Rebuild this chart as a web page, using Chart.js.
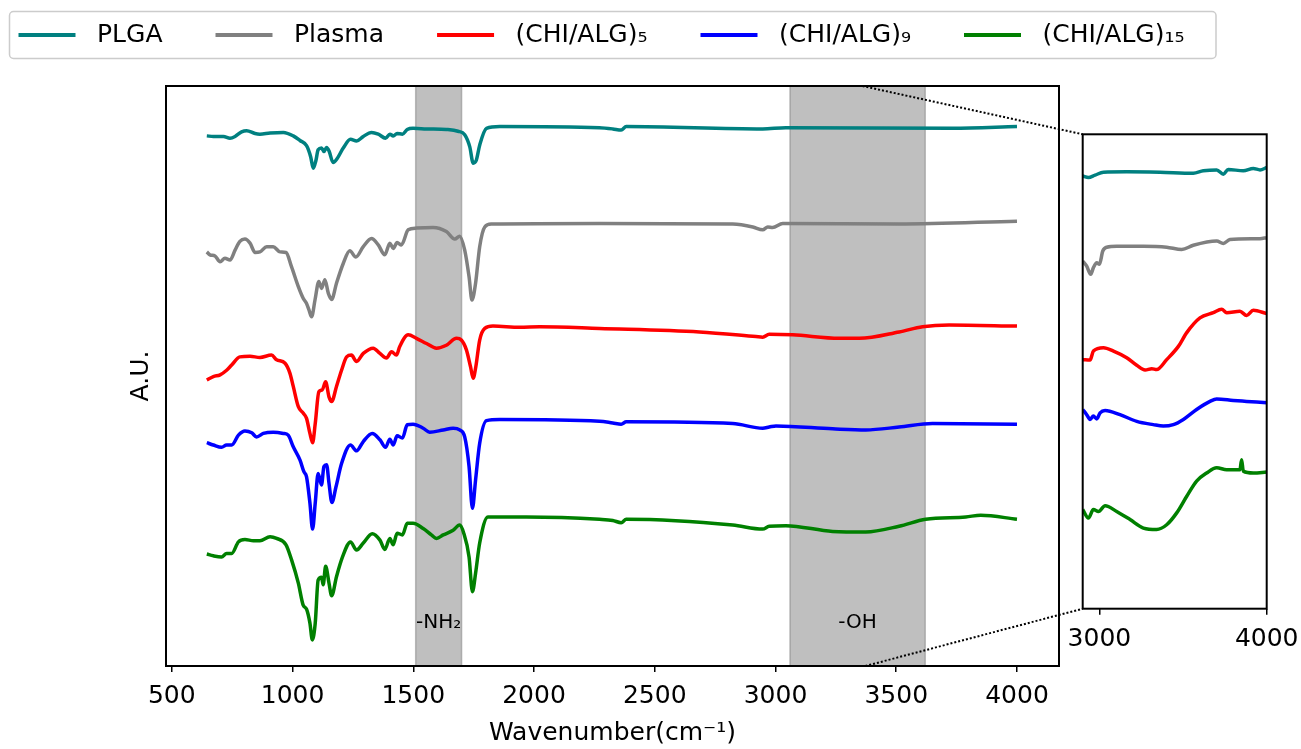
<!DOCTYPE html>
<html>
<head>
<meta charset="utf-8">
<script src="https://cdn.jsdelivr.net/npm/chart.js@4/dist/chart.umd.min.js"></script>
<style>
html,body{margin:0;padding:0;background:#fff;overflow:hidden;width:1301px;height:749px}
canvas{position:absolute}
</style>
</head>
<body>
<canvas id="main" width="1301" height="749"></canvas>
<canvas id="inset" width="241" height="560"></canvas>
<script>
// ---------------- DATA ----------------
const seriesNames  = ['PLGA', 'Plasma', '(CHI/ALG)₅', '(CHI/ALG)₉', '(CHI/ALG)₁₅'];
const seriesColors = ['#008080', '#808080', '#ff0000', '#0000ff', '#008000'];

// main panel (wavenumber, arbitrary units incl. stacking offset)
const plgaWn = [645,672,714,741,762,789,810,845,865,907,962,1003,1031,1058,1075,1086,1097,1106,1120,1130,1141,1152,1168,1185,1210,1240,1265,1293,1327,1355,1385,1403,1417,1433,1455,1475,1499,1555,1637,1685,1713,1734,1748,1761,1775,1803,1858,2271,2326,2361,2382,2947,3043,3733,4000];
const plgaAU = [91.4,91.3,91.3,91.0,91.3,92.1,92.3,91.8,91.7,91.9,92.0,91.4,90.6,89.7,87.8,85.8,87.2,89.0,89.3,88.7,89.4,88.7,86.8,87.5,89.3,90.8,90.5,91.3,92.0,91.7,91.0,91.7,91.4,91.8,91.7,92.5,92.7,92.6,92.5,92.2,91.6,89.5,86.7,87.2,89.8,92.7,93.0,92.8,92.6,92.4,93.0,92.6,92.8,92.7,93.0];

const plasmaWn = [645,658,679,700,720,741,762,782,803,824,845,865,893,920,948,973,996,1024,1044,1058,1068,1079,1093,1109,1120,1134,1148,1162,1182,1210,1237,1262,1293,1327,1355,1382,1403,1417,1433,1451,1479,1513,1582,1637,1672,1692,1713,1731,1743,1758,1775,1796,1823,2271,2823,2906,2947,2968,2988,3030,3512,4000];
const plasmaAU = [71.4,70.9,70.7,69.7,70.3,70.0,71.7,73.2,73.6,72.9,71.3,71.4,72.3,72.3,71.4,71.3,68.8,65.4,63.4,62.5,61.4,60.2,63.1,66.3,65.1,66.6,64.3,63.2,66.0,69.4,71.6,70.5,72.3,73.7,72.6,70.9,72.9,72.0,73.0,72.6,75.2,75.5,75.6,74.9,73.6,74.1,71.7,67.1,63.1,66.0,72.3,75.7,76.2,76.3,76.2,75.7,75.2,75.7,75.6,76.3,76.2,76.7];

const chi5Wn = [645,672,700,727,748,782,824,865,913,934,969,989,1003,1024,1044,1058,1072,1083,1094,1109,1123,1137,1151,1162,1182,1203,1224,1244,1265,1293,1334,1362,1389,1410,1430,1444,1479,1513,1555,1596,1637,1679,1699,1720,1737,1748,1759,1775,1796,1830,1941,2023,2271,2685,2919,2947,2974,3071,3264,3347,3512,3609,3719,4000];
const chi5AU = [49.3,49.9,50.2,51.0,51.9,53.3,53.4,53.2,53.6,52.8,52.2,50.5,48.2,44.7,43.6,42.7,40.1,38.5,41.8,47.3,47.6,49.0,46.4,45.6,48.2,51.0,53.3,53.6,52.5,53.9,54.8,53.9,53.1,54.2,53.6,55.1,57.1,56.5,55.6,54.8,55.3,56.5,56.2,54.5,51.6,49.6,51.6,56.2,58.2,58.6,58.4,58.5,58.2,57.6,56.8,56.7,57.2,57.1,56.5,56.5,57.6,58.5,58.8,58.6];

const chi9Wn = [645,672,706,727,748,776,803,831,851,879,920,962,982,1003,1031,1047,1058,1072,1083,1094,1106,1120,1130,1141,1151,1163,1180,1203,1240,1265,1293,1330,1362,1385,1403,1417,1433,1455,1475,1499,1541,1568,1624,1665,1692,1713,1731,1745,1758,1775,1803,1858,2271,2326,2361,2382,2823,2947,2974,3002,3236,3374,3512,3650,4000];
const chi9AU = [38.5,38.1,37.7,38.1,38.1,39.8,40.5,40.2,39.5,40.1,40.3,40.1,39.8,37.8,35.5,33.5,32.6,28.1,23.6,28.1,33.2,31.2,34.4,34.7,31.5,28.2,30.9,34.9,38.1,37.1,38.7,40.1,39.0,37.7,39.1,38.1,39.7,39.3,41.6,41.7,41.0,40.3,40.7,41.0,40.7,39.5,34.4,27.2,32.1,38.4,42.3,42.5,42.2,41.9,41.7,42.1,41.8,41.0,41.2,41.4,40.9,40.7,41.2,41.8,41.7];

const chi15Wn = [645,672,706,727,748,776,803,838,865,907,934,973,996,1024,1044,1058,1072,1082,1094,1106,1120,1127,1137,1151,1162,1182,1207,1240,1265,1293,1330,1362,1382,1403,1417,1433,1455,1475,1499,1541,1575,1596,1624,1665,1692,1709,1731,1745,1758,1775,1809,1858,1968,2271,2326,2361,2382,2823,2947,2974,3043,3236,3374,3512,3622,3788,3850,4000];
const chi15AU = [19.3,19.0,18.8,19.4,19.4,21.4,21.8,21.6,21.6,22.3,22.0,20.9,18.3,14.3,10.5,9.8,7.4,4.5,7.4,14.8,15.3,14.0,17.2,14.3,12.1,15.4,18.8,21.4,20.0,21.2,22.8,21.7,20.1,22.0,20.9,22.9,22.6,24.6,24.6,23.7,22.6,22.0,22.6,23.4,24.3,22.9,18.8,12.8,16.0,21.2,25.7,25.7,25.7,25.3,25.1,24.7,25.3,24.3,23.6,24.1,24.2,23.2,23.1,24.1,25.3,25.7,26.0,25.3];

// zoomed inset 2900-4000 cm-1 (each trace rescaled)
const plgaInsetWn = [2900,2934,2974,3024,3163,3362,3561,3621,3701,3741,3770,3860,3920,3960,4000];
const plgaInsetAU = [91.2,90.9,91.4,92.0,92.1,92.0,91.8,92.3,92.5,91.6,92.6,92.3,92.8,92.5,93.0];
const plasmaInsetWn = [2900,2924,2948,2964,2984,3000,3020,3044,3103,3263,3402,3492,3561,3701,3741,3780,3960,4000];
const plasmaInsetAU = [73.3,72.2,70.5,71.9,72.9,72.6,75.4,76.2,76.4,76.4,76.2,75.7,76.6,77.5,77.0,77.8,78.0,78.2];
const chi5InsetWn = [2900,2944,2964,3024,3084,3163,3223,3273,3313,3342,3402,3472,3522,3601,3681,3731,3761,3840,3880,3920,4000];
const chi5InsetAU = [52.5,52.4,54.3,55.0,54.3,52.9,51.3,50.3,50.6,50.4,52.5,55.3,58.2,61.3,62.4,63.1,62.4,62.7,61.8,62.9,62.2];
const chi9InsetWn = [2900,2924,2944,2964,2984,3004,3034,3123,3223,3322,3382,3442,3502,3581,3661,3701,3800,3880,4000];
const chi9InsetAU = [42.0,40.9,39.9,40.6,40.0,41.3,41.8,40.9,39.5,38.8,38.5,38.8,39.9,42.0,43.7,44.2,43.9,43.7,43.4];
const chi15InsetWn = [2900,2934,2964,2994,3034,3103,3183,3263,3342,3402,3462,3522,3581,3641,3701,3761,3840,3850,3860,3920,4000];
const chi15InsetAU = [20.9,19.1,20.9,20.5,21.7,20.5,18.8,17.0,16.7,17.7,20.2,23.7,26.9,28.6,29.7,29.3,29.3,31.4,29.0,28.6,28.8];

// ticks, ranges, shaded bands
const xTicks = [500,1000,1500,2000,2500,3000,3500,4000];
const xRange = [476, 4174];
const insetTicks = [3000,4000];
const insetRange = [2900, 4000];
const bandRanges = [[1510,1700],[3060,3620]];
const bandLabels = ['-NH₂','-OH'];
const bandLabelLevel = 7.5;
const zoomAnchors = [3360, 3372];

// ---------------- CHARTS ----------------
Chart.defaults.font.family = "'DejaVu Sans', sans-serif";
Chart.defaults.font.size = 25;
Chart.defaults.color = '#000';

const mainSeries = [[plgaWn,plgaAU],[plasmaWn,plasmaAU],[chi5Wn,chi5AU],[chi9Wn,chi9AU],[chi15Wn,chi15AU]];
const insetSeries = [[plgaInsetWn,plgaInsetAU],[plasmaInsetWn,plasmaInsetAU],[chi5InsetWn,chi5InsetAU],[chi9InsetWn,chi9InsetAU],[chi15InsetWn,chi15InsetAU]];

function makeDatasets(list){
  return list.map(([wn,au],i)=>({
    label: seriesNames[i],
    data: wn.map((w,k)=>({x:w, y:au[k]})),
    borderColor: seriesColors[i],
    backgroundColor: seriesColors[i],
    borderWidth: 3.5,
    pointRadius: 0,
    fill: false,
    cubicInterpolationMode: 'monotone'
  }));
}

const plainTick = v => String(v);

const framePlugin = {
  id: 'frame',
  afterDatasetsDraw(chart){
    const {ctx, chartArea:a} = chart;
    ctx.save();
    ctx.strokeStyle = '#000';
    ctx.lineWidth = 2;
    ctx.strokeRect(a.left, a.top, a.right - a.left, a.bottom - a.top);
    ctx.restore();
  }
};

const insetPos = {left: 1060, top: 120};
const insetCanvas = document.getElementById('inset');
insetCanvas.style.left = insetPos.left + 'px';
insetCanvas.style.top = insetPos.top + 'px';

const insetChart = new Chart(insetCanvas, {
  type: 'line',
  data: {datasets: makeDatasets(insetSeries)},
  options: {
    responsive: false, animation: false, devicePixelRatio: 1,
    layout: {padding: {left: 0, top: 14.3, right: 34.3, bottom: 0}},
    plugins: {legend: {display: false}, tooltip: {enabled: false}},
    scales: {
      x: {
        type: 'linear', position: 'bottom', min: insetRange[0], max: insetRange[1],
        afterBuildTicks: s => { s.ticks = insetTicks.map(v => ({value: v})); },
        afterFit: s => { s.height = 71.3; s.paddingLeft = 0; s.paddingRight = 0; },
        ticks: {padding: 9.5, maxRotation: 0, autoSkip: false, color: '#000', callback: plainTick},
        grid: {display: true, drawOnChartArea: false, drawTicks: true, tickLength: 6, color: '#000', lineWidth: 1.5},
        border: {display: false}
      },
      y: {
        type: 'linear', position: 'left', min: 0, max: 100,
        ticks: {display: false}, grid: {display: false}, border: {display: false},
        afterFit: s => { s.width = 22.7; s.paddingTop = 0; s.paddingBottom = 0; }
      }
    }
  },
  plugins: [framePlugin]
});

function swatch(color){
  const c = document.createElement('canvas');
  c.width = 99; c.height = 4;
  const g = c.getContext('2d');
  g.fillStyle = color;
  g.fillRect(33, 0, 57, 4);
  return c;
}
const swatches = seriesColors.map(swatch);

const bandPlugin = {
  id: 'bands',
  beforeDatasetsDraw(chart){
    const {ctx, chartArea:a, scales:{x}} = chart;
    ctx.save();
    ctx.fillStyle = 'rgba(128,128,128,0.5)';
    ctx.strokeStyle = 'rgba(128,128,128,0.5)';
    ctx.lineWidth = 1.5;
    bandRanges.forEach(([lo,hi]) => {
      const x0 = x.getPixelForValue(lo), x1 = x.getPixelForValue(hi);
      ctx.fillRect(x0, a.top, x1 - x0, a.bottom - a.top);
      ctx.beginPath();
      ctx.moveTo(x0, a.top); ctx.lineTo(x0, a.bottom);
      ctx.moveTo(x1, a.top); ctx.lineTo(x1, a.bottom);
      ctx.stroke();
    });
    ctx.restore();
  },
  afterDatasetsDraw(chart){
    const {ctx, scales:{x, y}} = chart;
    ctx.save();
    ctx.fillStyle = '#000';
    ctx.font = "20px 'DejaVu Sans', sans-serif";
    ctx.textAlign = 'center';
    ctx.textBaseline = 'middle';
    bandRanges.forEach(([lo,hi], i) => {
      ctx.fillText(bandLabels[i], x.getPixelForValue((lo + hi) / 2), y.getPixelForValue(bandLabelLevel));
    });
    ctx.restore();
  }
};

const legendFramePlugin = {
  id: 'legendFrame',
  afterDraw(chart){
    const ctx = chart.ctx;
    ctx.save();
    ctx.strokeStyle = '#cccccc';
    ctx.lineWidth = 1.5;
    ctx.beginPath();
    ctx.roundRect(9.5, 11.5, 1206.5, 47, 4);
    ctx.stroke();
    ctx.restore();
  }
};

const connectorPlugin = {
  id: 'connector',
  afterDraw(chart){
    const {ctx, chartArea:a, scales:{x}} = chart;
    const ia = insetChart.chartArea;
    const ix = insetPos.left + ia.left;
    ctx.save();
    ctx.strokeStyle = '#000';
    ctx.lineWidth = 2;
    ctx.setLineDash([2, 2]);
    ctx.beginPath();
    ctx.moveTo(x.getPixelForValue(zoomAnchors[0]), a.top);
    ctx.lineTo(ix, insetPos.top + ia.top);
    ctx.moveTo(x.getPixelForValue(zoomAnchors[1]), a.bottom);
    ctx.lineTo(ix, insetPos.top + ia.bottom);
    ctx.stroke();
    ctx.restore();
  }
};

const mainChart = new Chart(document.getElementById('main'), {
  type: 'line',
  data: {datasets: makeDatasets(mainSeries)},
  options: {
    responsive: false, animation: false, devicePixelRatio: 1,
    layout: {padding: {left: -34.5, top: 2.5, right: 0, bottom: 0}},
    plugins: {
      tooltip: {enabled: false},
      legend: {
        display: true, position: 'top', align: 'start',
        labels: {
          usePointStyle: true, pointStyleWidth: 99, padding: 20,
          color: '#000', font: {size: 25},
          generateLabels: chart => Chart.defaults.plugins.legend.labels.generateLabels(chart)
            .map((l, i) => Object.assign(l, {pointStyle: swatches[i], lineWidth: 0}))
        }
      }
    },
    scales: {
      x: {
        type: 'linear', position: 'bottom', min: xRange[0], max: xRange[1],
        afterBuildTicks: s => { s.ticks = xTicks.map(v => ({value: v})); },
        afterFit: s => { s.height = 83; s.paddingLeft = 0; s.paddingRight = 0; },
        ticks: {padding: 9.5, maxRotation: 0, autoSkip: false, color: '#000', callback: plainTick},
        grid: {display: true, drawOnChartArea: false, drawTicks: true, tickLength: 6, color: '#000', lineWidth: 1.5},
        border: {display: false},
        title: {display: true, text: 'Wavenumber(cm⁻¹)', color: '#000', padding: {top: 0, bottom: 1}}
      },
      xTop: {
        type: 'linear', position: 'top', min: 0, max: 1,
        ticks: {display: false}, grid: {display: false}, border: {display: false},
        afterFit: s => { s.height = 28.5; s.paddingLeft = 0; s.paddingRight = 0; }
      },
      y: {
        type: 'linear', position: 'left', min: 0, max: 100,
        ticks: {display: false}, grid: {display: false}, border: {display: false},
        afterFit: s => { s.width = 200.5; s.paddingTop = 0; s.paddingBottom = 0; },
        title: {display: true, text: 'A.U.', color: '#000', padding: {top: 161.1, bottom: 0}}
      },
      yRight: {
        type: 'linear', position: 'right', min: 0, max: 1,
        ticks: {display: false}, grid: {display: false}, border: {display: false},
        afterFit: s => { s.width = 242; s.paddingTop = 0; s.paddingBottom = 0; }
      }
    }
  },
  plugins: [bandPlugin, framePlugin, legendFramePlugin, connectorPlugin]
});
</script>
</body>
</html>
